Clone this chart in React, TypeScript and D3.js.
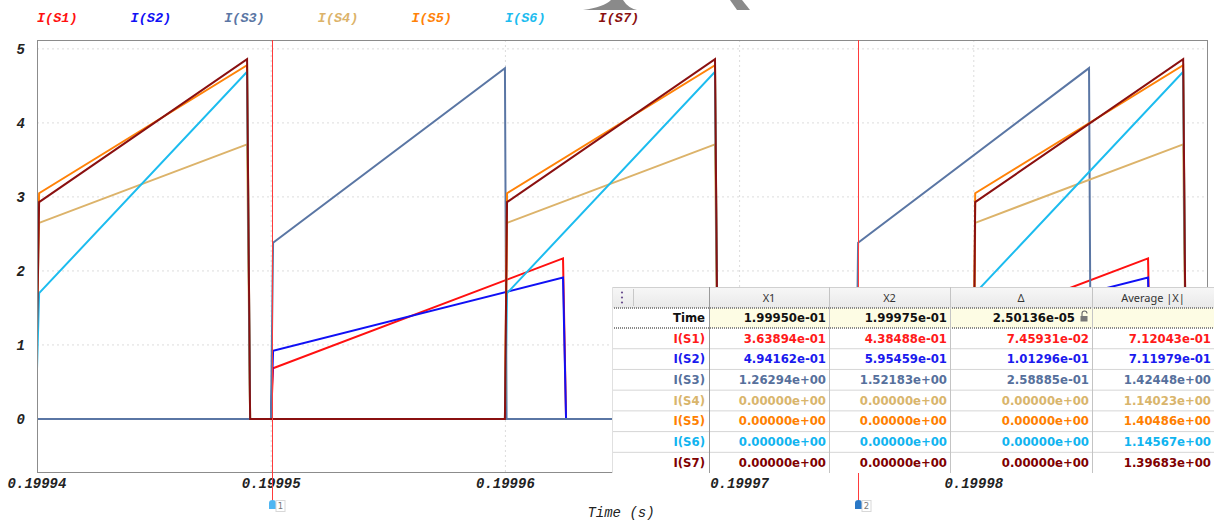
import React from "react";
import * as d3 from "d3";

const W = 1214;
const H = 523;

const seriesNames = ["I(S1)", "I(S2)", "I(S3)", "I(S4)", "I(S5)", "I(S6)", "I(S7)"];
const seriesColors = ["#ff1010", "#1010f5", "#5a76a4", "#dcb36a", "#ff8208", "#1cbcef", "#8a1010"];
const tableColors = ["#ff1a1a", "#1a1aee", "#56709c", "#d9b56c", "#ff8000", "#10b4f0", "#800000"];

// times in seconds
const tS1S2 = [0.19994, 0.19994999, 0.19995008, 0.19996246, 0.19996259, 0.19997497, 0.19997506, 0.19998744, 0.19998757, 0.19999];
const s1Values = [0, 0, 0.685, 2.17, 0, 0, 0.685, 2.17, 0, 0];
const s2Values = [0, 0, 0.92, 1.91, 0, 0, 0.92, 1.91, 0, 0];

const tS3 = [0.19994, 0.19994999, 0.19995008, 0.19995998, 0.19996005, 0.19997497, 0.19997506, 0.19998492, 0.199985, 0.19999];
const s3Values = [0, 0, 2.38, 4.74, 0, 0, 2.38, 4.74, 0, 0];

const tS4toS7 = [0.19994, 0.19994009, 0.19994897, 0.1999491, 0.19995998, 0.19996007, 0.19996895, 0.19996908, 0.19997998, 0.19998006, 0.19998894, 0.19998907, 0.19999];
const s4Values = [1.3, 2.65, 3.71, 0, 0, 2.65, 3.71, 0, 0, 2.65, 3.71, 0, 0];
const s5Values = [1.5, 3.05, 4.78, 0, 0, 3.05, 4.78, 0, 0, 3.05, 4.78, 0, 0];
const s6Values = [0.68, 1.7, 4.69, 0, 0, 1.7, 4.69, 0, 0, 1.7, 4.69, 0, 0];
const s7Values = [1.15, 2.93, 4.86, 0, 0, 2.93, 4.86, 0, 0, 2.93, 4.86, 0, 0];

const xTicks = [0.19994, 0.19995, 0.19996, 0.19997, 0.19998];
const xGrid = [0.19995, 0.19996, 0.19997, 0.19998];
const yTicks = [0, 1, 2, 3, 4, 5];
const cursorTimes = [0.19995, 0.199975];
const cursorLabels = ["1", "2"];
const cursorMarkerColors = ["#4fb6f2", "#2a78c6"];

const tableHeaders = ["X1", "X2", "\u0394", "Average |X|"];
const timeRow = ["1.99950e-01", "1.99975e-01", "2.50136e-05", ""];
const tableX1 = ["3.63894e-01", "4.94162e-01", "1.26294e+00", "0.00000e+00", "0.00000e+00", "0.00000e+00", "0.00000e+00"];
const tableX2 = ["4.38488e-01", "5.95459e-01", "1.52183e+00", "0.00000e+00", "0.00000e+00", "0.00000e+00", "0.00000e+00"];
const tableDelta = ["7.45931e-02", "1.01296e-01", "2.58885e-01", "0.00000e+00", "0.00000e+00", "0.00000e+00", "0.00000e+00"];
const tableAvg = ["7.12043e-01", "7.11979e-01", "1.42448e+00", "1.14023e+00", "1.40486e+00", "1.14567e+00", "1.39683e+00"];

const seriesData = [
  { t: tS1S2, v: s1Values },
  { t: tS1S2, v: s2Values },
  { t: tS3, v: s3Values },
  { t: tS4toS7, v: s4Values },
  { t: tS4toS7, v: s5Values },
  { t: tS4toS7, v: s6Values },
  { t: tS4toS7, v: s7Values },
];

const axisFont = "'Liberation Mono', 'DejaVu Sans Mono', monospace";
const tableFont = "'DejaVu Sans', sans-serif";

export default function App() {
  const left = 37, right = 1208, top = 40, bottom = 473;
  const x = d3.scaleLinear().domain([0.19994, 0.19999]).range([left, right]);
  const y = d3.scaleLinear().domain([-0.73, 5.12]).range([bottom, top]);
  const line = d3.line<[number, number]>().x((d) => x(d[0])).y((d) => y(d[1]));

  const colX = [612, 709, 829, 950, 1092, 1214];
  const headerTop = 287, headerBot = 308, timeBot = 328, rowH = 20.72;
  const rowTop = (i: number) => timeBot + i * rowH;
  const valueCols = [tableX1, tableX2, tableDelta, tableAvg];

  return (
    <div style={{ position: "absolute", left: 0, top: 0 }}>
      <svg width={W} height={H} style={{ display: "block", background: "#fff" }}>
        <defs>
          <clipPath id="plotclip">
            <rect x={left} y={top} width={right - left} height={bottom - top} />
          </clipPath>
          <linearGradient id="hdr" x1="0" y1="0" x2="0" y2="1">
            <stop offset="0" stopColor="#f7f7f7" />
            <stop offset="1" stopColor="#e9e9e9" />
          </linearGradient>
        </defs>

        {/* top decorations */}
        <path d="M583,10 Q604,7 611,0 L623,0 Q628,8 637,10 Z" fill="#8a8a8a" />
        <path d="M730,0 L742,0 L750,10 L737,10 Z" fill="#8a8a8a" />

        {/* legend */}
        {seriesNames.map((n, i) => (
          <text key={n} x={37 + i * 93.6} y={22} fill={seriesColors[i]} fontFamily={axisFont}
            fontStyle="italic" fontWeight="bold" fontSize={13.5}>{n}</text>
        ))}

        {/* grid */}
        {yTicks.filter((t) => t > 0).map((t) => (
          <line key={"gy" + t} x1={left} x2={right} y1={y(t)} y2={y(t)} stroke="#dcdcdc" strokeWidth={1} strokeDasharray="2,3" />
        ))}
        {xGrid.map((t) => (
          <line key={"gx" + t} x1={x(t)} x2={x(t)} y1={top} y2={bottom} stroke="#dcdcdc" strokeWidth={1} strokeDasharray="2,3" />
        ))}

        {/* series */}
        <g clipPath="url(#plotclip)">
          {seriesData.map((s, i) => (
            <path key={i} d={line(s.t.map((t, k) => [t, s.v[k]] as [number, number])) || ""} fill="none"
              stroke={seriesColors[i]} strokeWidth={2} strokeLinejoin="miter" />
          ))}
        </g>

        {/* frame */}
        <rect x={left + 0.5} y={top + 0.5} width={right - left - 1} height={bottom - top - 1} fill="none" stroke="#8c8c8c" strokeWidth={1} />

        {/* y tick labels */}
        {yTicks.map((t) => (
          <text key={"yl" + t} x={25} y={y(t) + 5} textAnchor="end" fontFamily={axisFont} fontStyle="italic"
            fontWeight="bold" fontSize={14} fill="#222">{t}</text>
        ))}
        {/* x tick labels */}
        {xTicks.map((t) => (
          <text key={"xl" + t} x={x(t)} y={488} textAnchor="middle" fontFamily={axisFont} fontStyle="italic"
            fontWeight="bold" fontSize={14} fill="#222">{t.toFixed(5)}</text>
        ))}
        <text x={621} y={517} textAnchor="middle" fontFamily={axisFont} fontStyle="italic" fontSize={14} fill="#222">Time (s)</text>

        {/* cursors */}
        {cursorTimes.map((t, i) => {
          const cx = Math.round(x(t)) + 1.5;
          return (
            <g key={"c" + i}>
              <line x1={cx} x2={cx} y1={top} y2={501} stroke="#ff3b3b" strokeWidth={1} />
              <path d={`M${cx - 3.5},503 Q${cx - 3.5},500 ${cx},500 Q${cx + 3.5},500 ${cx + 3.5},503 L${cx + 3.5},509 L${cx - 3.5},509 Z`}
                fill={cursorMarkerColors[i]} />
              <rect x={cx + 3.5} y={500.5} width={9} height={11} fill="#fff" stroke="#d8d8d8" strokeWidth={1} />
              <text x={cx + 8} y={509} textAnchor="middle" fontFamily="'DejaVu Sans', sans-serif" fontSize={8.5} fill="#777">{cursorLabels[i]}</text>
            </g>
          );
        })}

        {/* table */}
        <g>
          <rect x={colX[0]} y={headerTop} width={colX[5] - colX[0]} height={bottom - headerTop} fill="#fff" />
          <rect x={colX[0]} y={headerTop} width={colX[5] - colX[0]} height={headerBot - headerTop} fill="url(#hdr)" />
          <rect x={colX[1]} y={headerBot} width={colX[5] - colX[1]} height={timeBot - headerBot} fill="#fdfce4" />
          {[292.5, 297.5, 302.5].map((cy) => (
            <circle key={cy} cx={622} cy={cy} r={1.1} fill="#6b4f8e" />
          ))}
          <line x1={633.5} x2={633.5} y1={headerTop + 2} y2={headerBot - 2} stroke="#c8c8c8" />
          {seriesNames.slice(1).map((_, i) => (
            <line key={"rl" + i} x1={colX[0]} x2={colX[5]} y1={rowTop(i + 1)} y2={rowTop(i + 1)} stroke="#d6d6d6" strokeWidth={1} />
          ))}
          <line x1={colX[0]} x2={colX[5]} y1={headerTop + 0.5} y2={headerTop + 0.5} stroke="#d0d0d0" />
          <line x1={colX[0]} x2={colX[5]} y1={headerBot} y2={headerBot} stroke="#8a8a8a" strokeWidth={2} strokeDasharray="1,1" />
          <line x1={colX[0]} x2={colX[5]} y1={timeBot} y2={timeBot} stroke="#8a8a8a" strokeWidth={2} strokeDasharray="1,1" />
          <line x1={colX[0] + 0.5} x2={colX[0] + 0.5} y1={headerTop} y2={bottom} stroke="#e0e0e0" />
          {colX.slice(1, 5).map((cx, i) => (
            <line key={"cl" + i} x1={cx + 0.5} x2={cx + 0.5} y1={headerTop} y2={bottom} stroke={i === 0 ? "#9a9a9a" : "#c4c4c4"} strokeWidth={1} />
          ))}
          {tableHeaders.map((h, i) => (
            <text key={"h" + i} x={(colX[i + 1] + colX[i + 2]) / 2} y={302} textAnchor="middle" fontFamily="'Noto Sans', sans-serif"
              fontSize={11} fill="#333">{h}</text>
          ))}
          <text x={705} y={322} textAnchor="end" fontFamily={tableFont} fontWeight="bold" fontSize={11.7} fill="#111">Time</text>
          {timeRow.map((v, i) => (
            <text key={"tr" + i} x={i === 2 ? 1075 : colX[i + 2] - 3} y={322} textAnchor="end" fontFamily={tableFont}
              fontWeight="bold" fontSize={11.7} fill="#111">{v}</text>
          ))}
          <g stroke="#666" fill="none" strokeWidth={1.1}>
            <path d="M1082,316 L1082,313.5 Q1082,311 1084.5,311 Q1087,311 1087,313.5" />
          </g>
          <rect x={1080.5} y={316} width={7} height={5.5} fill="#777" />
          {seriesNames.map((n, r) => (
            <g key={"row" + r}>
              <text x={705} y={rowTop(r) + 14.5} textAnchor="end" fontFamily={tableFont} fontWeight="bold" fontSize={11.7}
                fill={tableColors[r]}>{n}</text>
              {valueCols.map((col, c) => (
                <text key={c} x={colX[c + 2] - 3} y={rowTop(r) + 14.5} textAnchor="end" fontFamily={tableFont} fontWeight="bold"
                  fontSize={11.7} fill={tableColors[r]}>{col[r]}</text>
              ))}
            </g>
          ))}
        </g>
      </svg>
    </div>
  );
}
